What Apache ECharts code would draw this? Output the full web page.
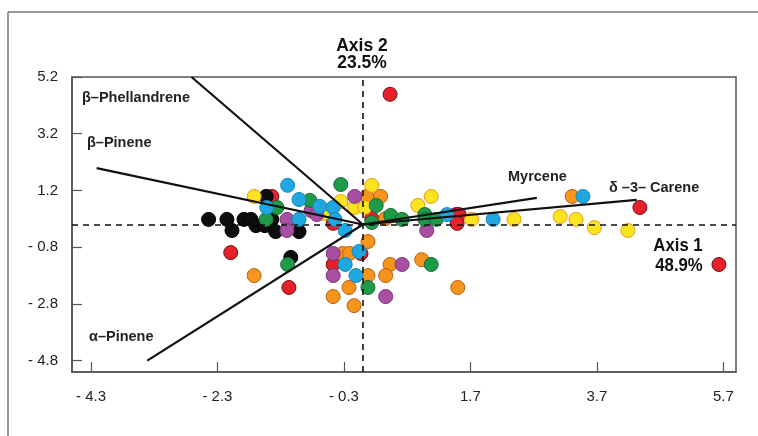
<!DOCTYPE html>
<html>
<head>
<meta charset="utf-8">
<script src="https://cdn.jsdelivr.net/npm/echarts@6/dist/echarts.min.js"></script>
<style>
html,body{margin:0;padding:0;background:#fff;}
#chart{width:758px;height:436px;}
</style>
</head>
<body>
<div id="chart"></div>
<script>
const xTicks = [-4.3, -2.3, -0.3, 1.7, 3.7, 5.7];
const xTickLabels = ['- 4.3', '- 2.3', '- 0.3', '1.7', '3.7', '5.7'];
const yTicks = [5.2, 3.2, 1.2, -0.8, -2.8, -4.8];
const yTickLabels = ['5.2', '3.2', '1.2', '- 0.8', '- 2.8', '- 4.8'];

const loadingNames = ['β–Phellandrene', 'β–Pinene', 'α–Pinene', 'Myrcene', 'δ –3– Carene'];
const loadingX = [-2.71, -4.21, -3.41, 2.75, 4.33];
const loadingY = [5.2, 1.99, -4.8, 0.94, 0.87];

const redPts = [[-1.44,0.99],[-2.09,-0.99],[-1.17,-2.22],[-0.47,0.04],[0.14,0.21],[-0.03,-1.02],[-0.47,-1.41],[0.43,4.59],[1.47,0.35],[1.52,0.35],[1.49,0.04],[4.38,0.60],[5.63,-1.41]];
const blackPts = [[-2.44,0.18],[-2.15,0.18],[-2.07,-0.21],[-1.88,0.18],[-1.77,0.18],[-1.69,-0.04],[-1.55,-0.04],[-1.53,0.99],[-1.38,-0.25],[-1.44,0.18],[-1.01,-0.25],[-1.14,-1.16]];
const orangePts = [[0.06,0.99],[0.28,0.99],[0.36,0.21],[0.08,-0.60],[-0.32,-1.02],[-0.21,-1.02],[0.43,-1.41],[0.93,-1.24],[0.08,-1.80],[0.36,-1.80],[-0.22,-2.22],[-0.47,-2.54],[-0.14,-2.86],[1.50,-2.22],[-1.72,-1.80],[3.31,0.99]];
const yellowPts = [[-1.72,0.99],[-0.62,0.39],[-0.35,0.81],[-0.13,0.60],[0.14,1.38],[0.03,0.60],[0.87,0.67],[1.08,0.99],[1.72,0.18],[2.39,0.18],[3.12,0.28],[3.37,0.18],[3.66,-0.11],[4.19,-0.21]];
const purplePts = [[-0.82,0.49],[-0.73,0.35],[-0.13,0.99],[-1.20,0.18],[-1.20,-0.21],[-0.47,-1.02],[-0.47,-1.80],[0.62,-1.41],[0.36,-2.54],[1.01,-0.21]];
const greenPts = [[-1.36,0.60],[-1.53,0.18],[-0.84,0.85],[-0.35,1.41],[-1.19,-1.41],[0.21,0.67],[0.14,0.07],[0.44,0.32],[0.62,0.18],[0.98,0.35],[0.98,0.18],[1.16,0.18],[1.08,-1.41],[0.08,-2.22]];
const bluePts = [[-1.19,1.38],[-1.52,0.60],[-1.01,0.88],[-0.68,0.64],[-0.47,0.60],[-1.01,0.18],[-0.44,0.18],[-0.28,-0.21],[-0.06,-0.95],[-0.28,-1.41],[-0.11,-1.80],[1.33,0.35],[2.06,0.18],[3.48,0.99]];

const sans = "'Liberation Sans',Arial,sans-serif";

function scatter(name, data, fill, border) {
  return {
    name, type: 'scatter', data, symbolSize: 14, z: 3,
    itemStyle: { color: fill, borderColor: border, borderWidth: 1, opacity: 1 }
  };
}

const series = [
  scatter('red', redPts, '#e8202a', '#6e1212'),
  scatter('black', blackPts, '#0d0d0d', '#000000'),
  scatter('orange', orangePts, '#f7941d', '#b85e12'),
  scatter('yellow', yellowPts, '#fce51e', '#e89a1a'),
  scatter('purple', purplePts, '#a84fa3', '#7a3578'),
  scatter('green', greenPts, '#1e9a48', '#166b35'),
  scatter('blue', bluePts, '#1ea7e1', '#1a86b8'),
  {
    type: 'line', data: [], z: 2, silent: true,
    markLine: {
      silent: true, symbol: 'none', label: { show: false },
      lineStyle: { color: '#111', width: 1.6, type: [6, 5] },
      data: [{ xAxis: 0 }, { yAxis: 0 }]
    }
  }
];
loadingNames.forEach((n, i) => {
  series.push({
    name: n, type: 'line', data: [[0, 0], [loadingX[i], loadingY[i]]],
    symbol: 'none', z: 5, silent: true,
    lineStyle: { color: '#111', width: 2.2 }
  });
});

function title(text, x, y, size, sx) {
  return { type: 'text', x, y, scaleX: sx, style: { text, font: 'bold ' + size + 'px ' + sans, fill: '#111', align: 'center', verticalAlign: 'middle' } };
}
function vlabel(text, x, y) {
  return { type: 'text', x, y, style: { text, font: 'bold 14.5px ' + sans, fill: '#222', align: 'left', verticalAlign: 'middle' } };
}

const chart = echarts.init(document.getElementById('chart'), null, { renderer: 'canvas' });
chart.setOption({
  animation: false,
  backgroundColor: '#fff',
  grid: { left: 72, right: 22, top: 77, bottom: 64, show: true, borderColor: '#555', borderWidth: 1.5, backgroundColor: 'transparent' },
  xAxis: {
    type: 'value', min: -4.6, max: 5.9,
    axisLine: { show: true, onZero: false, lineStyle: { color: '#555', width: 1.5 } },
    axisTick: { show: true, inside: true, length: 10, customValues: xTicks, lineStyle: { color: '#555', width: 1.2 } },
    axisLabel: { customValues: xTicks, margin: 17, fontFamily: sans, fontSize: 15, color: '#222',
      formatter: v => { const i = xTicks.findIndex(t => Math.abs(t - v) < 1e-6); return i >= 0 ? xTickLabels[i] : ''; } },
    splitLine: { show: false }
  },
  yAxis: {
    type: 'value', min: -5.2, max: 5.2,
    axisLine: { show: true, onZero: false, lineStyle: { color: '#555', width: 1.5 } },
    axisTick: { show: true, inside: true, length: 10, customValues: yTicks, lineStyle: { color: '#555', width: 1.2 } },
    axisLabel: { customValues: yTicks, margin: 14, fontFamily: sans, fontSize: 15, color: '#222',
      formatter: v => { const i = yTicks.findIndex(t => Math.abs(t - v) < 1e-6); return i >= 0 ? yTickLabels[i] : ''; } },
    splitLine: { show: false }
  },
  graphic: [
    { type: 'line', shape: { x1: 8, y1: 12, x2: 758, y2: 12 }, style: { stroke: '#777', lineWidth: 1.5 }, z: 0 },
    { type: 'line', shape: { x1: 8, y1: 12, x2: 8, y2: 436 }, style: { stroke: '#777', lineWidth: 1.5 }, z: 0 },
    title('Axis 2', 362, 46, 19, 0.92),
    title('23.5%', 362, 63, 19, 0.92),
    title('Axis 1', 678, 246, 18, 0.93),
    title('48.9%', 679, 266, 18, 0.93),
    vlabel(loadingNames[0], 82, 98),
    vlabel(loadingNames[1], 87, 143),
    vlabel(loadingNames[2], 89, 337),
    vlabel(loadingNames[3], 508, 177),
    vlabel(loadingNames[4], 609, 188)
  ],
  series
});
</script>
</body>
</html>
